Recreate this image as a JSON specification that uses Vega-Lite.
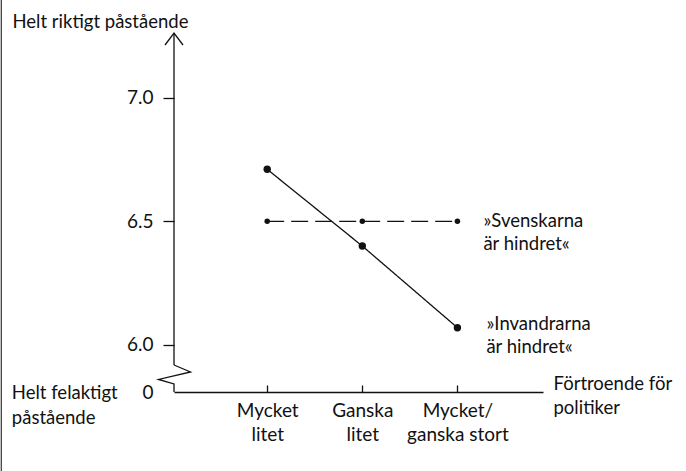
{
  "$schema": "https://vega.github.io/schema/vega-lite/v6.json",
  "width": 369,
  "height": 359,
  "autosize": "none",
  "padding": {"left": 174, "top": 33, "right": 143, "bottom": 79},
  "background": "white",
  "config": {
    "font": "Lato",
    "view": {"stroke": null},
    "text": {"font": "Lato", "fontSize": 18.5, "color": "#111"},
    "axis": {"labelFont": "Lato", "titleFont": "Lato", "labelColor": "#111", "titleColor": "#111", "grid": false}
  },
  "data": {
    "values": [
      {"serie": "Invandrarna", "fortroende": 1, "varde": 6.71},
      {"serie": "Invandrarna", "fortroende": 2, "varde": 6.40},
      {"serie": "Invandrarna", "fortroende": 3, "varde": 6.07},
      {"serie": "Svenskarna", "fortroende": 1, "varde": 6.5},
      {"serie": "Svenskarna", "fortroende": 2, "varde": 6.5},
      {"serie": "Svenskarna", "fortroende": 3, "varde": 6.5}
    ]
  },
  "layer": [
    {
      "mark": {"type": "line", "color": "#111", "strokeWidth": 1.3},
      "encoding": {
        "x": {
          "field": "fortroende", "type": "quantitative",
          "scale": {"domain": [0.02, 3.9], "nice": false, "zero": false},
          "axis": {
            "values": [1, 2, 3],
            "labelExpr": "datum.value == 1 ? ['Mycket', 'litet'] : datum.value == 2 ? ['Ganska', 'litet'] : ['Mycket/', 'ganska stort']",
            "labelFontSize": 19,
            "labelLineHeight": 24,
            "labelPadding": 16,
            "labelFlush": false,
            "labelOverlap": false,
            "domain": true, "domainColor": "#111", "domainWidth": 1.3,
            "ticks": true, "tickSize": -7, "tickColor": "#111", "tickWidth": 1.3,
            "title": ["Förtroende för", "politiker"],
            "titleFontSize": 18.5, "titleFontWeight": "normal",
            "titleAngle": 0, "titleAlign": "left", "titleBaseline": "alphabetic",
            "titleLineHeight": 24,
            "titleX": 379, "titleY": -3
          }
        },
        "y": {
          "field": "varde", "type": "quantitative",
          "scale": {"domain": [5.81, 7.261], "nice": false, "zero": false},
          "axis": {
            "values": [5.81, 6, 6.5, 7],
            "labelExpr": "datum.value < 5.9 ? '0' : format(datum.value, '.1f')",
            "labelFontSize": 19,
            "labelPadding": 10,
            "domain": false,
            "ticks": true, "tickSize": 11, "tickColor": "#111", "tickWidth": 1.3,
            "tickOpacity": {"condition": {"test": "datum.value < 5.9", "value": 0}, "value": 1},
            "title": "Helt riktigt påstående",
            "titleFontSize": 18.5, "titleFontWeight": "normal",
            "titleAngle": 0, "titleAlign": "left", "titleBaseline": "alphabetic",
            "titleX": -162, "titleY": -6
          }
        },
        "detail": {"field": "serie"},
        "strokeDash": {
          "field": "serie", "type": "nominal",
          "scale": {"domain": ["Invandrarna", "Svenskarna"], "range": [[1, 0], [17, 7]]},
          "legend": null
        }
      }
    },
    {
      "mark": {"type": "point", "filled": true, "opacity": 1, "color": "#111"},
      "encoding": {
        "x": {"field": "fortroende", "type": "quantitative"},
        "y": {"field": "varde", "type": "quantitative"},
        "size": {
          "field": "serie", "type": "nominal",
          "scale": {"domain": ["Invandrarna", "Svenskarna"], "range": [55, 30]},
          "legend": null
        }
      }
    },
    {
      "transform": [{"filter": "datum.serie == 'Svenskarna' && datum.fortroende == 3"}],
      "mark": {"type": "text", "align": "left", "baseline": "middle", "dx": 26, "lineHeight": 23},
      "encoding": {
        "x": {"field": "fortroende", "type": "quantitative"},
        "y": {"field": "varde", "type": "quantitative"},
        "text": {"value": ["»Svenskarna", "är hindret«"]}
      }
    },
    {
      "transform": [{"filter": "datum.serie == 'Invandrarna' && datum.fortroende == 3"}],
      "mark": {"type": "text", "align": "left", "baseline": "middle", "dx": 29, "dy": -4, "lineHeight": 23},
      "encoding": {
        "x": {"field": "fortroende", "type": "quantitative"},
        "y": {"field": "varde", "type": "quantitative"},
        "text": {"value": ["»Invandrarna", "är hindret«"]}
      }
    },
    {
      "data": {"values": [{"del": "y-axel"}]},
      "mark": {"type": "rule", "color": "#111", "strokeWidth": 1.3},
      "encoding": {
        "x": {"datum": 0.02, "type": "quantitative"},
        "y": {"datum": 7.261, "type": "quantitative"},
        "y2": {"datum": 5.919}
      }
    },
    {
      "data": {"values": [{"del": "pil"}]},
      "mark": {"type": "point", "shape": "M-0.9,1.2L0,0L0.9,1.2", "filled": false, "opacity": 1, "color": "#111", "strokeWidth": 1.3, "size": 400},
      "encoding": {
        "x": {"datum": 0.02, "type": "quantitative"},
        "y": {"datum": 7.261, "type": "quantitative"}
      }
    },
    {
      "data": {"values": [{"del": "brytning"}]},
      "mark": {"type": "point", "shape": "M0,-1.35L1.65,-0.65L-1.55,0.1L0,0.55L0,1.35", "filled": false, "opacity": 1, "color": "#111", "strokeWidth": 1.3, "size": 400},
      "encoding": {
        "x": {"datum": 0.02, "type": "quantitative"},
        "y": {"datum": 5.8646, "type": "quantitative"}
      }
    },
    {
      "data": {"values": [{"del": "ram"}]},
      "mark": {"type": "rule", "color": "#333", "strokeWidth": 1.2},
      "encoding": {
        "x": {"datum": -1.796, "type": "quantitative"},
        "y": {"datum": 7.4, "type": "quantitative"},
        "y2": {"datum": 5.49}
      }
    },
    {
      "data": {"values": [{"del": "botten"}]},
      "mark": {"type": "text", "align": "left", "baseline": "alphabetic", "dy": 7, "lineHeight": 25},
      "encoding": {
        "x": {"datum": -1.685, "type": "quantitative"},
        "y": {"datum": 5.81, "type": "quantitative"},
        "text": {"value": ["Helt felaktigt", "påstående"]}
      }
    }
  ]
}
